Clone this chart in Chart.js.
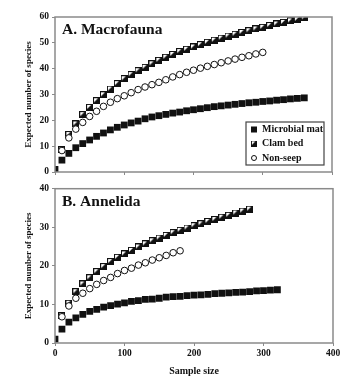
<!DOCTYPE html>
<html>
<head>
<meta charset="utf-8">
<script src="https://cdn.jsdelivr.net/npm/chart.js@4"></script>
<style>
  body { margin: 0; background: #fff; }
  #wrap { position: relative; width: 351px; height: 381px; }
  canvas { position: absolute; left: 0; }
  #top { top: 0; }
  #bottom { top: 180px; }
</style>
</head>
<body>
<div id="wrap">
  <canvas id="top" width="351" height="182"></canvas>
  <canvas id="bottom" width="351" height="201"></canvas>
</div>
<script>
// sample sizes (x positions of the rarefaction points)
const sampleSizes = [0, 10, 20, 30, 40, 50, 60, 70, 80, 90, 100, 110, 120, 130, 140, 150, 160, 170, 180,
  190, 200, 210, 220, 230, 240, 250, 260, 270, 280, 290, 300, 310, 320, 330, 340, 350, 360];

const seriesNames = ["Microbial mat", "Clam bed", "Non-seep"];

// A. Macrofauna
const macroMat = [1.0, 4.6, 7.2, 9.4, 11.0, 12.4, 13.8, 15.1, 16.3, 17.3, 18.2, 19.0, 19.7, 20.6, 21.3, 21.8, 22.3, 22.8, 23.2,
  23.7, 24.1, 24.5, 24.9, 25.3, 25.6, 25.9, 26.2, 26.5, 26.8, 27.0, 27.3, 27.5, 27.8, 28.0, 28.3, 28.5, 28.7];
const macroClam = [8.6, 14.5, 18.6, 22.2, 25.0, 27.6, 29.9, 32.1, 34.2, 36.1, 37.7, 39.2, 40.5, 41.9, 43.2, 44.4, 45.5, 46.6,
  47.5, 48.4, 49.3, 50.2, 51.0, 51.8, 52.6, 53.3, 54.0, 54.7, 55.4, 56.0, 56.7, 57.3, 57.9, 58.5, 59.1, 59.7];
const macroNon = [8.3, 13.2, 16.6, 19.2, 21.5, 23.5, 25.4, 27.0, 28.4, 29.5, 30.7, 31.9, 32.9, 33.8, 34.7, 35.7, 36.8, 37.7,
  38.6, 39.4, 40.2, 40.9, 41.6, 42.3, 43.0, 43.7, 44.4, 45.0, 45.7, 46.3];

// B. Annelida
const anneMat = [1.0, 3.6, 5.4, 6.5, 7.4, 8.2, 8.7, 9.3, 9.7, 10.1, 10.4, 10.8, 11.0, 11.3, 11.4, 11.6, 11.9, 12.0, 12.1,
  12.3, 12.4, 12.5, 12.6, 12.8, 12.9, 13.0, 13.1, 13.2, 13.3, 13.5, 13.6, 13.7, 13.8];
const anneClam = [7.1, 10.3, 13.3, 15.3, 16.9, 18.5, 19.8, 21.1, 22.2, 23.1, 24.0, 24.9, 25.7, 26.5, 27.2, 27.9, 28.6, 29.2,
  29.8, 30.4, 30.9, 31.5, 32.0, 32.6, 33.1, 33.7, 34.2, 34.7];
const anneNon = [6.8, 9.6, 11.6, 12.9, 14.1, 15.2, 16.2, 17.0, 18.0, 18.8, 19.4, 20.2, 20.8, 21.5, 22.1, 22.7, 23.4, 23.9];

const xTicks = [0, 100, 200, 300, 400];
const macroYTicks = [0, 10, 20, 30, 40, 50, 60];
const anneYTicks = [0, 10, 20, 30, 40];

const FONT = "'Liberation Serif', 'DejaVu Serif', serif";
const INK = "#111";
const FRAME = "#8a8a8a";

// half-filled square used for "Clam bed"
function clamMarker(size) {
  const c = document.createElement("canvas");
  c.width = size; c.height = size;
  const g = c.getContext("2d");
  g.fillStyle = "#111";
  g.fillRect(0, 0, size, size);
  g.fillStyle = "#fff";
  g.beginPath();
  g.moveTo(1, 1);
  g.lineTo(size - 2, 1);
  g.lineTo(1, size - 2);
  g.closePath();
  g.fill();
  return c;
}
const clamImg = clamMarker(7);

// pair sample sizes with values, starting at a given sample size
function pts(values, start) {
  const i0 = sampleSizes.indexOf(start);
  return values.map((v, i) => ({ x: sampleSizes[i0 + i], y: v }));
}

function makeDatasets(mat, clam, non) {
  return [
    { label: seriesNames[2], data: pts(non, 10), pointStyle: "circle", pointRadius: 3.3,
      backgroundColor: "#fff", borderColor: INK, borderWidth: 1 },
    { label: seriesNames[1], data: pts(clam, 10), pointStyle: clamImg, pointRadius: 3.5,
      backgroundColor: INK, borderColor: INK },
    { label: seriesNames[0], data: pts(mat, 0), pointStyle: "rect", pointRadius: 4.8,
      backgroundColor: INK, borderColor: INK, borderWidth: 0 },
  ];
}

// frame, panel title, y-axis title, optional legend box
const decor = {
  id: "decor",
  afterDraw(chart, args, opts) {
    const { ctx, chartArea: a } = chart;
    ctx.save();
    ctx.strokeStyle = FRAME;
    ctx.lineWidth = 1.5;
    ctx.strokeRect(a.left, a.top, a.right - a.left, a.bottom - a.top);

    ctx.fillStyle = INK;
    ctx.font = "bold 15.5px " + FONT;
    ctx.textBaseline = "alphabetic";
    ctx.textAlign = "left";
    ctx.fillText(opts.title, a.left + 7, a.top + 17);

    ctx.font = "bold 9px " + FONT;
    ctx.translate(29, (a.top + a.bottom) / 2);
    ctx.rotate(-Math.PI / 2);
    ctx.textAlign = "center";
    ctx.textBaseline = "middle";
    ctx.fillText("Expected number of species", 0, 0);
    ctx.restore();

    if (opts.legend) {
      const x0 = 246, y0 = 122, w = 78, h = 43;
      ctx.save();
      ctx.fillStyle = "#fff";
      ctx.fillRect(x0, y0, w, h);
      ctx.strokeStyle = "#444";
      ctx.lineWidth = 1.2;
      ctx.strokeRect(x0, y0, w, h);
      ctx.fillStyle = INK;
      ctx.font = "bold 10px " + FONT;
      ctx.textBaseline = "middle";
      ctx.textAlign = "left";
      const rows = [y0 + 7.5, y0 + 21.5, y0 + 36];
      // Microbial mat
      ctx.fillRect(x0 + 5, rows[0] - 3, 6, 6);
      ctx.fillText(seriesNames[0], x0 + 16, rows[0]);
      // Clam bed
      ctx.drawImage(clamImg, x0 + 5, rows[1] - 3, 6, 6);
      ctx.fillText(seriesNames[1], x0 + 16, rows[1]);
      // Non-seep
      ctx.beginPath();
      ctx.arc(x0 + 8, rows[2], 2.5, 0, Math.PI * 2);
      ctx.strokeStyle = INK;
      ctx.lineWidth = 1;
      ctx.stroke();
      ctx.fillText(seriesNames[2], x0 + 16, rows[2]);
      ctx.restore();
    }
  },
};

function makeChart(id, datasets, yMax, yTicks, opts) {
  return new Chart(document.getElementById(id), {
    type: "scatter",
    data: { datasets },
    options: {
      responsive: false,
      animation: false,
      layout: { padding: { top: opts.padTop, right: opts.padRight, left: 0, bottom: 0 } },
      plugins: {
        legend: { display: false },
        tooltip: { enabled: false },
        decor: { title: opts.title, legend: opts.legend },
      },
      scales: {
        x: {
          type: "linear",
          min: 0, max: 400,
          afterBuildTicks: (s) => { s.ticks = xTicks.map((v) => ({ value: v })); },
          afterFit: (s) => { s.height = opts.xHeight; },
          border: { display: false },
          grid: { drawOnChartArea: false, tickLength: 3, color: FRAME },
          ticks: {
            display: opts.showXLabels,
            padding: 2,
            color: INK,
            font: { family: FONT, size: 9.5, weight: "bold" },
          },
          title: {
            display: opts.showXLabels,
            text: "Sample size",
            color: INK,
            padding: { top: 1 },
            font: { family: FONT, size: 10, weight: "bold" },
          },
        },
        y: {
          min: 0, max: yMax,
          afterBuildTicks: (s) => { s.ticks = yTicks.map((v) => ({ value: v })); },
          afterFit: (s) => { s.width = 55; },
          border: { display: false },
          grid: { drawOnChartArea: false, tickLength: 3, color: FRAME },
          ticks: {
            padding: 3,
            color: INK,
            font: { family: FONT, size: 9.5, weight: "bold" },
          },
        },
      },
    },
    plugins: [decor],
  });
}

makeChart("top", makeDatasets(macroMat, macroClam, macroNon), 60, macroYTicks, {
  title: "A. Macrofauna", legend: true, padTop: 17, padRight: 19, xHeight: 10, showXLabels: false,
});
makeChart("bottom", makeDatasets(anneMat, anneClam, anneNon), 40, anneYTicks, {
  title: "B. Annelida", legend: false, padTop: 8, padRight: 18, xHeight: 38, showXLabels: true,
});
</script>
</body>
</html>
